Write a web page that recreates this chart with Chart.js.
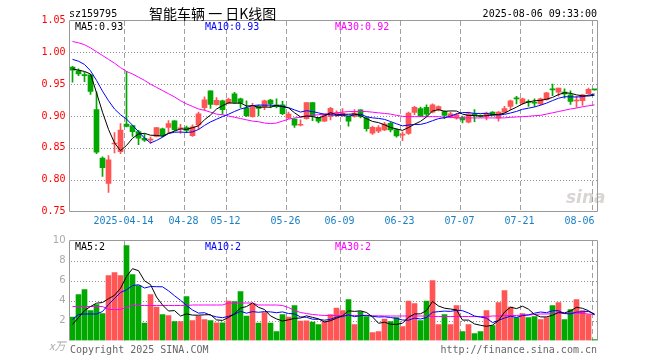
<!DOCTYPE html>
<html><head><meta charset="utf-8">
<script src="https://cdn.jsdelivr.net/npm/chart.js@4.4.0/dist/chart.umd.min.js"></script>
<style>
html,body{margin:0;padding:0;background:#fff;}
#wrap{position:relative;width:660px;height:360px;overflow:hidden;background:#fff;font-family:"DejaVu Sans Mono",monospace;font-size:10px;}
canvas{position:absolute;left:0;}
.t{position:absolute;white-space:pre;line-height:12px;}
</style></head><body>
<div id="wrap">
<canvas id="pc" width="660" height="232" style="top:0;width:660px;height:232px"></canvas>
<canvas id="vc" width="660" height="135" style="top:225px;width:660px;height:135px"></canvas>
<div class="t" style="left:69px;top:8px;color:#000">sz159795</div>
<div class="t" style="left:149px;top:5px;color:#000;font-family:'Noto Sans CJK SC';font-size:14px;line-height:16px">智能车辆 一 日K线图</div>
<div class="t" style="right:63px;top:8px;color:#000">2025-08-06 09:33:00</div>
<div class="t" id="m5" style="left:75px;top:21px;color:#000"></div>
<div class="t" id="m10" style="left:205px;top:21px;color:#0000ff"></div>
<div class="t" id="m30" style="left:335px;top:21px;color:#ff00ff"></div>
<div class="t" style="left:75px;top:241px;color:#000">MA5:2</div>
<div class="t" style="left:205px;top:241px;color:#0000ff">MA10:2</div>
<div class="t" style="left:335px;top:241px;color:#ff00ff">MA30:2</div>
<div class="t" style="left:49px;top:339px;color:#aaa;font-style:italic;font-family:'Noto Sans CJK SC';font-size:11px">x万</div>
<div class="t" style="left:70px;top:344px;color:#666">Copyright 2025 SINA.COM</div>
<div class="t" style="right:63px;top:344px;color:#666">http://finance.sina.com.cn</div>
<div class="t" style="left:566px;top:188px;color:rgba(160,150,150,0.4);font-family:'DejaVu Sans';font-weight:bold;font-style:italic;font-size:17px;line-height:18px">sina</div>
</div>
<script>
const dates = ['2025-03-31','2025-04-01','2025-04-02','2025-04-03','2025-04-07','2025-04-08','2025-04-09','2025-04-10','2025-04-11','2025-04-14',
'2025-04-15','2025-04-16','2025-04-17','2025-04-18','2025-04-21','2025-04-22','2025-04-23','2025-04-24','2025-04-25','2025-04-28',
'2025-04-29','2025-04-30','2025-05-06','2025-05-07','2025-05-08','2025-05-09','2025-05-12','2025-05-13','2025-05-14','2025-05-15',
'2025-05-16','2025-05-19','2025-05-20','2025-05-21','2025-05-22','2025-05-23','2025-05-26','2025-05-27','2025-05-28','2025-05-29',
'2025-05-30','2025-06-03','2025-06-04','2025-06-05','2025-06-06','2025-06-09','2025-06-10','2025-06-11','2025-06-12','2025-06-13',
'2025-06-16','2025-06-17','2025-06-18','2025-06-19','2025-06-20','2025-06-23','2025-06-24','2025-06-25','2025-06-26','2025-06-27',
'2025-06-30','2025-07-01','2025-07-02','2025-07-03','2025-07-04','2025-07-07','2025-07-08','2025-07-09','2025-07-10','2025-07-11',
'2025-07-14','2025-07-15','2025-07-16','2025-07-17','2025-07-18','2025-07-21','2025-07-22','2025-07-23','2025-07-24','2025-07-25',
'2025-07-28','2025-07-29','2025-07-30','2025-07-31','2025-08-01','2025-08-04','2025-08-05','2025-08-06'];

const tickDates  = ['2025-04-14','2025-04-28','2025-05-12','2025-05-26','2025-06-09','2025-06-23','2025-07-07','2025-07-21','2025-08-06'];
const tickLabels = ['2025-04-14','04-28','05-12','05-26','06-09','06-23','07-07','07-21','08-06'];

const opens = [0.977,0.971,0.965,0.9645,0.910,0.834,0.794,0.856,0.844,0.8875,
0.885,0.8755,0.865,0.862,0.868,0.880,0.882,0.8925,0.880,0.882,
0.869,0.886,0.913,0.9395,0.9177,0.924,0.920,0.935,0.927,0.9125,
0.899,0.915,0.9146,0.925,0.9175,0.9175,0.897,0.895,0.8855,0.896,
0.921,0.897,0.892,0.899,0.903,0.9005,0.8995,0.8995,0.9095,0.897,
0.873,0.876,0.878,0.8885,0.8785,0.870,0.8725,0.9057,0.9115,0.9135,
0.906,0.910,0.907,0.8985,0.897,0.8975,0.8905,0.9035,0.9005,0.8995,
0.906,0.897,0.906,0.915,0.928,0.920,0.9225,0.921,0.919,0.9255,
0.9415,0.9375,0.9375,0.9333,0.9235,0.924,0.935,0.9415];

const highs = [0.978,0.974,0.969,0.965,0.938,0.836,0.838,0.874,0.888,0.970,
0.8855,0.8775,0.872,0.867,0.882,0.881,0.893,0.893,0.887,0.884,
0.886,0.906,0.930,0.9395,0.929,0.925,0.928,0.937,0.928,0.924,
0.920,0.917,0.925,0.926,0.927,0.923,0.906,0.896,0.894,0.921,
0.921,0.898,0.903,0.9135,0.908,0.9115,0.900,0.910,0.910,0.899,
0.884,0.885,0.890,0.890,0.880,0.875,0.906,0.915,0.914,0.9177,
0.919,0.916,0.908,0.906,0.904,0.900,0.906,0.910,0.902,0.906,
0.907,0.907,0.915,0.925,0.9307,0.928,0.9255,0.927,0.928,0.937,
0.950,0.944,0.9427,0.9396,0.931,0.934,0.944,0.9415];

const lows = [0.953,0.9635,0.954,0.934,0.841,0.805,0.780,0.842,0.841,0.883,
0.868,0.855,0.860,0.857,0.867,0.867,0.873,0.877,0.8725,0.874,
0.868,0.879,0.909,0.912,0.917,0.903,0.919,0.920,0.913,0.899,
0.898,0.900,0.910,0.913,0.9125,0.902,0.896,0.882,0.8844,0.895,
0.8927,0.889,0.891,0.894,0.899,0.899,0.884,0.898,0.897,0.876,
0.871,0.874,0.877,0.875,0.8666,0.8614,0.871,0.902,0.899,0.900,
0.905,0.908,0.896,0.897,0.895,0.889,0.889,0.891,0.898,0.894,
0.900,0.8917,0.905,0.910,0.919,0.918,0.915,0.915,0.917,0.925,
0.932,0.931,0.928,0.918,0.9135,0.9167,0.934,0.9405];

const closes = [0.972,0.966,0.9635,0.9385,0.843,0.819,0.831,0.857,0.878,0.8835,
0.8755,0.865,0.862,0.863,0.882,0.8695,0.888,0.8785,0.881,0.8775,
0.883,0.9035,0.9255,0.918,0.9245,0.910,0.926,0.9215,0.920,0.9005,
0.9135,0.912,0.924,0.919,0.9145,0.9035,0.903,0.8855,0.8865,0.921,
0.900,0.8917,0.902,0.912,0.904,0.904,0.8917,0.9045,0.899,0.880,
0.8823,0.882,0.8875,0.878,0.8687,0.871,0.9045,0.9135,0.9005,0.903,
0.9177,0.9146,0.901,0.9035,0.902,0.894,0.9035,0.9005,0.8995,0.9045,
0.901,0.906,0.9115,0.924,0.927,0.927,0.9215,0.920,0.927,0.9365,
0.941,0.9437,0.9345,0.923,0.924,0.9333,0.942,0.941];

const ma5 = [0.974,0.972,0.970,0.966,0.9366,0.906,0.879,0.8577,0.8456,0.8537,
0.865,0.8718,0.8728,0.8698,0.8695,0.8683,0.8729,0.8762,0.8798,0.8789,
0.8816,0.8847,0.8941,0.9015,0.9109,0.9163,0.9208,0.920,0.9204,0.9156,
0.9163,0.9135,0.914,0.9138,0.9166,0.9146,0.9128,0.9051,0.8986,0.8999,
0.8992,0.8969,0.9002,0.9053,0.9019,0.9027,0.9027,0.9032,0.9006,0.8958,
0.8915,0.8896,0.8862,0.882,0.8797,0.8774,0.8819,0.8871,0.8916,0.8985,
0.9078,0.9099,0.9074,0.908,0.9078,0.903,0.9008,0.9007,0.8999,0.9004,
0.9018,0.9023,0.9045,0.9094,0.9139,0.9191,0.9222,0.9239,0.9245,0.9264,
0.9292,0.9336,0.9365,0.9357,0.9332,0.9317,0.9314,0.9327];

const ma10 = [0.989,0.986,0.981,0.971,0.956,0.939,0.924,0.911,0.902,0.8952,
0.8855,0.8754,0.8653,0.8577,0.8616,0.8667,0.8724,0.8745,0.8748,0.8742,
0.875,0.8788,0.8852,0.8907,0.8949,0.899,0.9028,0.9071,0.911,0.9133,
0.9163,0.9172,0.917,0.9171,0.9161,0.9155,0.9132,0.9096,0.9062,0.9083,
0.9069,0.9049,0.9027,0.902,0.9009,0.901,0.8998,0.9017,0.903,0.8989,
0.8971,0.8962,0.8947,0.8913,0.8878,0.8845,0.8858,0.8867,0.8868,0.8891,
0.8926,0.8959,0.8973,0.8998,0.9032,0.9054,0.9054,0.9041,0.904,0.9041,
0.9024,0.9016,0.9026,0.9047,0.9072,0.9105,0.9123,0.9142,0.917,0.9202,
0.9242,0.9279,0.9302,0.9301,0.9298,0.9305,0.9325,0.9346];

const ma30 = [1.017,1.015,1.012,1.007,1.001,0.995,0.989,0.983,0.976,0.970,
0.966,0.961,0.956,0.950,0.945,0.940,0.935,0.930,0.924,0.919,
0.915,0.911,0.909,0.906,0.903,0.902,0.900,0.898,0.896,0.894,
0.892,0.891,0.889,0.888,0.889,0.892,0.895,0.897,0.898,0.900,
0.901,0.902,0.903,0.904,0.905,0.906,0.907,0.907,0.907,0.907,
0.906,0.905,0.904,0.903,0.901,0.8995,0.899,0.899,0.899,0.899,
0.899,0.899,0.898,0.898,0.897,0.897,0.897,0.897,0.897,0.897,
0.897,0.897,0.897,0.898,0.8985,0.899,0.8995,0.9005,0.901,0.903,
0.905,0.907,0.909,0.911,0.9125,0.9145,0.916,0.9175];

const volumes = [2.33,4.6,5.1,3.0,3.6,2.7,6.5,6.8,6.5,9.5,
6.6,5.5,1.73,4.6,3.33,2.6,2.5,1.9,1.9,4.4,
2.0,2.43,2.1,2.0,1.77,1.77,3.93,3.9,4.9,2.43,
3.63,1.73,2.8,1.73,0.9,2.6,2.33,3.5,1.93,1.97,
1.83,1.6,1.9,2.6,3.23,3.0,4.1,1.6,2.9,2.4,
0.8,0.9,2.13,1.9,2.3,1.4,3.93,3.7,2.0,3.93,
6.0,1.6,2.6,1.6,3.5,0.9,1.6,0.7,0.9,3.0,
1.5,3.8,5.0,3.33,2.3,2.7,2.3,2.4,2.1,2.3,
3.5,3.8,2.1,3.1,4.1,3.0,2.6,0.1];

const vma5 = [1.6,2.3,3.0,3.4,3.73,3.8,4.18,4.52,5.22,6.4,
7.18,6.98,5.97,5.59,4.35,3.55,2.95,2.99,2.45,2.66,
2.54,2.53,2.57,2.59,2.06,2.01,2.31,2.67,3.25,3.39,
3.76,3.32,3.10,2.46,2.16,1.95,2.07,2.21,2.25,2.47,
2.31,2.17,1.85,1.98,2.23,2.47,2.97,2.91,2.97,2.8,
2.36,1.72,1.83,1.63,1.61,1.73,2.33,2.65,2.67,2.99,
3.91,3.45,3.23,3.15,3.06,2.04,2.04,1.66,1.52,1.42,
1.54,1.98,2.84,3.33,3.19,3.43,3.13,2.61,2.36,2.36,
2.52,2.82,2.76,2.96,3.32,3.22,2.98,2.58];

const vma10 = [2.1,2.6,2.65,2.65,2.65,2.9,3.6,4.2,4.8,5.07,
5.49,5.58,5.25,5.4,5.38,5.37,4.97,4.48,4.02,3.51,
3.05,2.74,2.78,2.52,2.36,2.28,2.42,2.62,2.92,2.73,
2.89,2.82,2.89,2.86,2.78,2.86,2.70,2.66,2.36,2.32,
2.13,2.12,2.03,2.12,2.35,2.39,2.57,2.38,2.48,2.52,
2.42,2.35,2.37,2.3,2.21,2.05,2.03,2.24,2.15,2.3,
2.82,2.89,2.94,2.91,3.03,2.98,2.75,2.45,2.34,2.24,
1.79,2.01,2.25,2.43,2.31,2.49,2.56,2.73,2.85,2.78,
2.98,2.98,2.69,2.66,2.84,2.87,2.9,2.67];

const vma30 = [3.4,3.4,3.4,3.4,3.4,3.4,3.1,3.1,3.1,3.3,
3.55,3.5,3.5,3.5,3.5,3.5,3.5,3.5,3.5,3.5,
3.55,3.55,3.55,3.55,3.55,3.55,3.75,3.75,3.75,3.75,
3.75,3.55,3.55,3.55,3.55,3.5,3.3,3.0,2.8,2.7,
2.6,2.55,2.5,2.5,2.5,2.5,2.5,2.5,2.5,2.5,
2.47,2.47,2.45,2.45,2.45,2.45,2.45,2.45,2.45,2.45,
2.4,2.4,2.4,2.4,2.4,2.4,2.4,2.4,2.4,2.4,
2.45,2.45,2.5,2.5,2.5,2.55,2.55,2.6,2.65,2.65,
2.7,2.7,2.7,2.75,2.75,2.7,2.65,2.6];

const RED = '#ff5555', GREEN = '#00a800';
const GRID = '#a0a0a0', DOT = '#909090', FRAME = '#999999';
const MONO = 'DejaVu Sans Mono';
const colors = closes.map((c, i) => c >= opens[i] ? RED : GREEN);

document.getElementById('m5').textContent = 'MA5:' + ma5[ma5.length - 1].toFixed(2);
document.getElementById('m10').textContent = 'MA10:' + ma10[ma10.length - 1].toFixed(2);
document.getElementById('m30').textContent = 'MA30:' + ma30[ma30.length - 1].toFixed(2);

// grid: dotted horizontals at the y ticks (pixel dots), dashed verticals at the labelled dates
const gridPlugin = {
  id: 'sgrid',
  beforeDatasetsDraw(chart) {
    const {ctx, chartArea: a, scales: {x, y}} = chart;
    ctx.save();
    ctx.fillStyle = DOT;
    const ticks = y.ticks;
    for (let k = 1; k < ticks.length - 1; k++) {
      const py = Math.round(y.getPixelForValue(ticks[k].value));
      for (let px = Math.ceil(a.left) + 1; px < a.right - 1; px += 3) {
        ctx.fillRect(px, py, 1, 1);
      }
    }
    ctx.fillStyle = GRID;
    const half = (x.getPixelForValue(1) - x.getPixelForValue(0)) / 2;
    tickDates.forEach(d => {
      const i = dates.indexOf(d);
      const px = Math.round(x.getPixelForValue(i) - half);
      for (let py = Math.ceil(a.top); py < a.bottom; py += 8) {
        ctx.fillRect(px, py, 1, Math.min(5, a.bottom - py));
      }
    });
    ctx.restore();
  }
};

const framePlugin = {
  id: 'frame',
  afterDraw(chart, args, opts) {
    const {ctx, chartArea: a} = chart;
    ctx.save();
    ctx.strokeStyle = FRAME;
    ctx.lineWidth = 1;
    ctx.beginPath();
    if (opts.bottom) {
      ctx.moveTo(a.left, a.bottom); ctx.lineTo(a.right, a.bottom);
    }
    ctx.moveTo(a.left, a.bottom); ctx.lineTo(a.left, a.top);
    ctx.lineTo(a.right, a.top); ctx.lineTo(a.right, a.bottom);
    ctx.stroke();
    ctx.restore();
  }
};

const lineDs = (data, color) => ({type: 'line', data, borderColor: color, borderWidth: 1, pointRadius: 0, tension: 0, order: 0, fill: false});

const xBase = extra => Object.assign({
  offset: true,
  grid: {display: false, offset: true, drawTicks: false},
  border: {display: false}
}, extra);

new Chart(document.getElementById('pc'), {
  type: 'bar',
  data: {
    labels: dates,
    datasets: [
      lineDs(ma5, '#000000'),
      lineDs(ma10, '#0000ff'),
      lineDs(ma30, '#ff00ff'),
      {label: 'wick', data: lows.map((l, i) => [l, highs[i]]), backgroundColor: colors, barThickness: 1, grouped: false, order: 2},
      {label: 'body', data: opens.map((o, i) => [o, closes[i]]), backgroundColor: colors, barThickness: 5, grouped: false, minBarLength: 1, order: 1}
    ]
  },
  options: {
    responsive: false, animation: false, devicePixelRatio: 1,
    layout: {padding: {top: 20.5, right: 62.5, left: 0, bottom: 0}},
    plugins: {legend: {display: false}, tooltip: {enabled: false}, frame: {bottom: true}},
    scales: {
      x: xBase({
        ticks: {autoSkip: false, maxRotation: 0, minRotation: 0, padding: 4, labelOffset: -3, color: '#1a7fc4',
          font: {family: MONO, size: 10},
          callback: (v, i) => {
            const k = tickDates.indexOf(dates[i]);
            if (k < 0) return '';
            return k === tickLabels.length - 1 ? tickLabels[k] + '    ' : tickLabels[k];
          }},
        afterFit: s => { s.height = 20.5; }
      }),
      y: {
        min: 0.75, max: 1.05,
        ticks: {stepSize: 0.05, color: '#ff0000', padding: 4, font: {family: MONO, size: 10}, callback: v => Number(v).toFixed(2)},
        grid: {display: false, drawTicks: false},
        border: {display: false},
        afterFit: s => { s.width = 69.5; }
      }
    }
  },
  plugins: [gridPlugin, framePlugin]
});

new Chart(document.getElementById('vc'), {
  type: 'bar',
  data: {
    labels: dates,
    datasets: [
      lineDs(vma5, '#000000'),
      lineDs(vma10, '#0000ff'),
      lineDs(vma30, '#ff00ff'),
      {label: 'vol', data: volumes, backgroundColor: colors, barThickness: 5, grouped: false, order: 1}
    ]
  },
  options: {
    responsive: false, animation: false, devicePixelRatio: 1,
    layout: {padding: {top: 15.5, right: 62.5, left: 0, bottom: 19.5}},
    plugins: {legend: {display: false}, tooltip: {enabled: false}, frame: {bottom: false}},
    scales: {
      x: xBase({ticks: {display: false}, afterFit: s => { s.height = 0; }}),
      y: {
        min: 0, max: 10,
        ticks: {stepSize: 2, color: '#aaaaaa', padding: 4, font: {family: 'DejaVu Sans', size: 10}, callback: v => v === 0 ? '' : String(v)},
        grid: {display: false, drawTicks: false},
        border: {display: false},
        afterFit: s => { s.width = 69.5; }
      }
    }
  },
  plugins: [gridPlugin, framePlugin]
});
</script>
</body></html>
